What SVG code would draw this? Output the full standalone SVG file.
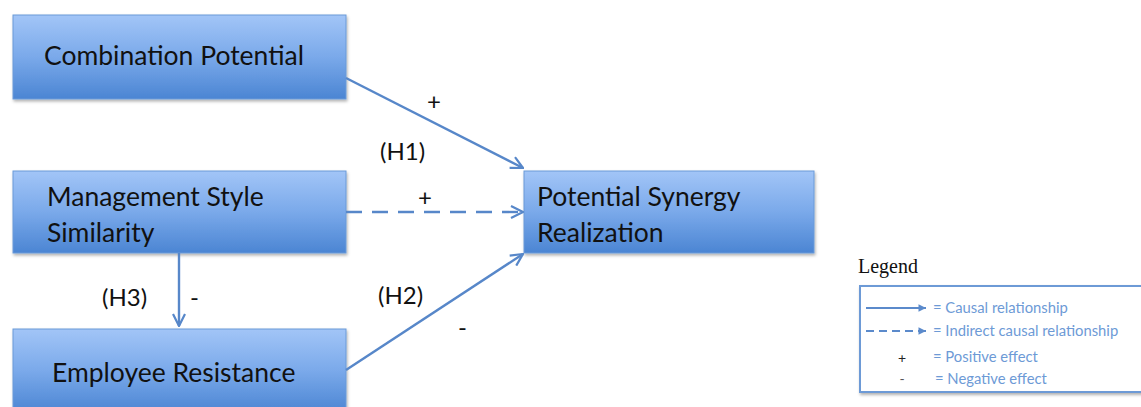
<svg xmlns="http://www.w3.org/2000/svg" width="1141" height="407" viewBox="0 0 1141 407">
<defs>
<linearGradient id="g" x1="0" y1="0" x2="0" y2="1">
<stop offset="0" stop-color="#a2c5f7"/>
<stop offset="0.5" stop-color="#7aa9ea"/>
<stop offset="1" stop-color="#4b85d3"/>
</linearGradient>
<filter id="sh" x="-5%" y="-5%" width="110%" height="120%">
<feDropShadow dx="1" dy="2" stdDeviation="1.5" flood-color="#000" flood-opacity="0.3"/>
</filter>
<marker id="ah" viewBox="0 0 14 14" refX="13" refY="7" markerWidth="14" markerHeight="14" markerUnits="userSpaceOnUse" orient="auto">
<path d="M1,1 L13,7 L1,13" fill="none" stroke="#5787c9" stroke-width="2.2"/>
</marker>
<marker id="ahs" viewBox="0 0 12 12" refX="11" refY="6" markerWidth="9" markerHeight="9" markerUnits="userSpaceOnUse" orient="auto">
<path d="M1,1 L11,6 L1,11 Z" fill="#5b8acb"/>
</marker>
</defs>
<style>
.box{fill:url(#g);stroke:#6a9ad8;stroke-width:1;filter:url(#sh)}
.t{font-family:Lato,"Open Sans",sans-serif;font-size:26.5px;fill:#111}
.lbl{font-family:Lato,"Open Sans",sans-serif;font-size:24px;fill:#111}
.c{stroke:#5787c9;stroke-width:2.4;fill:none}
.lt{font-family:Lato,"Open Sans",sans-serif;font-size:14.8px;fill:#6d9ad6}
</style>
<g id="combination-potential">
<rect class="box" x="13" y="15" width="333" height="84"/>
<text class="t" x="44" y="65">Combination Potential</text>
</g>
<g id="management-style-similarity">
<rect class="box" x="13" y="171" width="333" height="82"/>
<text class="t" x="47" y="206">Management Style</text>
<text class="t" x="47" y="242">Similarity</text>
</g>
<g id="employee-resistance">
<rect class="box" x="13" y="329" width="333" height="84"/>
<text class="t" x="52" y="382">Employee Resistance</text>
</g>
<g id="potential-synergy-realization">
<rect class="box" x="524" y="171" width="290" height="82"/>
<text class="t" x="537" y="206">Potential Synergy</text>
<text class="t" x="537" y="242">Realization</text>
</g>
<g id="connectors">
<line class="c" x1="346" y1="78" x2="523" y2="168" marker-end="url(#ah)"/>
<line class="c" x1="346" y1="212" x2="523" y2="212" stroke-dasharray="16,10" marker-end="url(#ah)"/>
<line class="c" x1="346" y1="370" x2="523" y2="254" marker-end="url(#ah)"/>
<line class="c" x1="179" y1="253" x2="179" y2="326" marker-end="url(#ah)"/>
</g>
<g id="labels">
<text class="lbl" x="427" y="110">+</text>
<text class="lbl" x="380" y="160">(H1)</text>
<text class="lbl" x="418" y="206">+</text>
<text class="lbl" x="378" y="304">(H2)</text>
<text class="lbl" x="458" y="336">-</text>
<text class="lbl" x="102" y="306">(H3)</text>
<text class="lbl" x="190" y="306">-</text>
</g>
<g id="legend">
<text x="858" y="273" font-family="'Liberation Serif',serif" font-size="20" fill="#111">Legend</text>
<rect x="860" y="286" width="290" height="106" fill="#fff" stroke="#6d9ad6" stroke-width="2" filter="url(#sh)"/>
<line x1="866" y1="308" x2="926" y2="308" stroke="#5b8acb" stroke-width="2" marker-end="url(#ahs)"/>
<text class="lt" x="933" y="313">= Causal relationship</text>
<line x1="866" y1="331" x2="926" y2="331" stroke="#5b8acb" stroke-width="2" stroke-dasharray="8,5" marker-end="url(#ahs)"/>
<text class="lt" x="933" y="336">= Indirect causal relationship</text>
<text x="902" y="363" font-family="Lato,sans-serif" font-size="14" fill="#222" text-anchor="middle">+</text>
<text class="lt" x="933" y="362">= Positive effect</text>
<text x="902" y="384" font-family="Lato,sans-serif" font-size="14" fill="#555" text-anchor="middle">-</text>
<text class="lt" x="935" y="384">= Negative effect</text>
</g>
</svg>
